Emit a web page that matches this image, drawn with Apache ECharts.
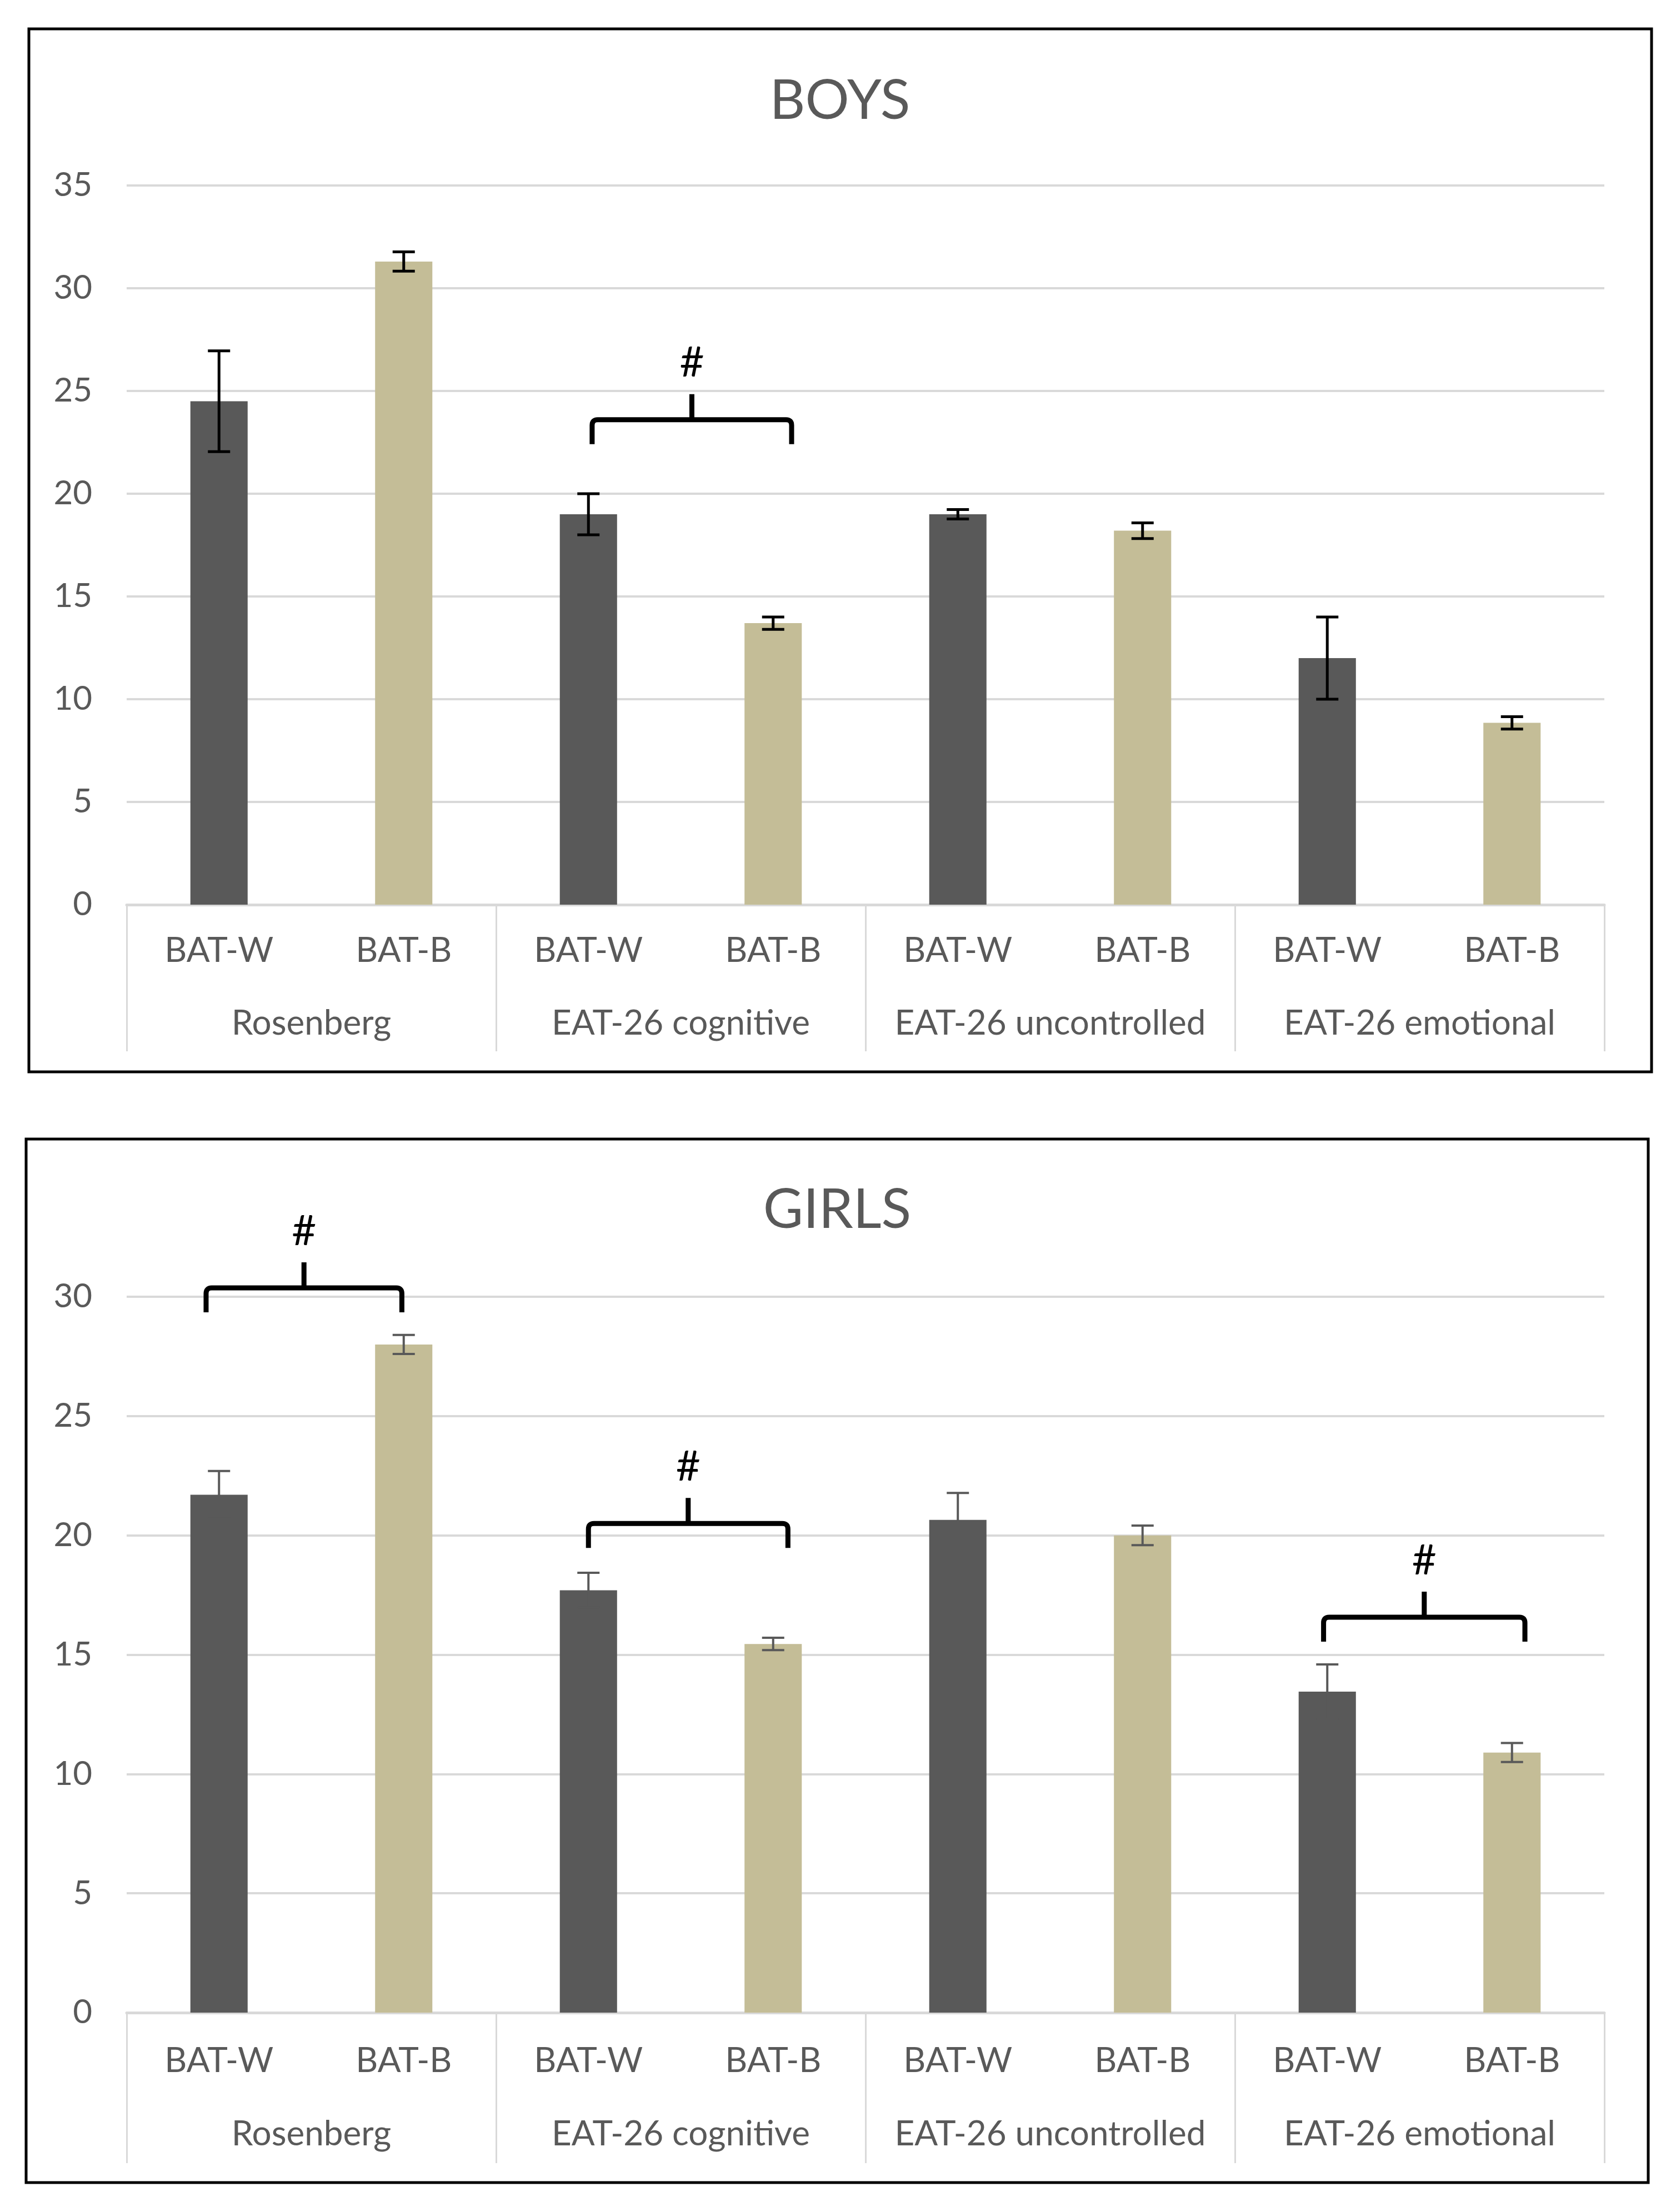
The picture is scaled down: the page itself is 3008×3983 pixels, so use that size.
<!DOCTYPE html>
<html>
<head>
<meta charset="utf-8">
<script src="https://cdn.jsdelivr.net/npm/echarts@6/dist/echarts.min.js"></script>
<style>
html,body{margin:0;padding:0;background:#fff;}
#chart{width:3008px;height:3983px;}
</style>
</head>
<body>
<div id="chart"></div>
<script>
// ---- data ----
const subLabels = ['BAT-W','BAT-B','BAT-W','BAT-B','BAT-W','BAT-B','BAT-W','BAT-B'];
const groupLabels = ['Rosenberg','EAT-26 cognitive','EAT-26 uncontrolled','EAT-26 emotional'];
const boysTitle = 'BOYS';
const girlsTitle = 'GIRLS';
const boysMeans = [24.5, 31.3, 19.0, 13.7, 19.0, 18.2, 12.0, 8.85];
const boysErr   = [2.45, 0.47, 1.0, 0.3, 0.23, 0.38, 2.0, 0.3];
const girlsMeans = [21.7, 28.0, 17.7, 15.45, 20.65, 20.0, 13.45, 10.9];
const girlsErr   = [1.0, 0.4, 0.73, 0.26, 1.13, 0.41, 1.14, 0.4];
const boysYMax = 35, girlsYMax = 30, yStep = 5;
// significance brackets: start/end position (category index), level (value)
const boysBracketStart = [2.02];
const boysBracketEnd   = [3.10];
const boysBracketLevel = [23.6];
const girlsBracketStart = [-0.07, 2.0, 5.98];
const girlsBracketEnd   = [0.99, 3.08, 7.07];
const girlsBracketLevel = [30.37, 20.5, 16.57];
const sigMark = '#';

// ---- styles ----
const DARK = '#595959', TAN = '#C4BD97', GRID = '#D9D9D9', TXT = '#595959';
const FONT = 'Lato';

const chart = echarts.init(document.getElementById('chart'), null, {renderer:'canvas'});

function barData(means){
  return means.map((v,i)=>({value:v, itemStyle:{color: i%2===0 ? DARK : TAN}}));
}
function errData(means, errs){
  return means.map((v,i)=>[i, v, errs[i]]);
}
function bracketData(s,e,l){
  return s.map((v,i)=>[v, e[i], l[i]]);
}
function errRender(color, lw){
  return function(params, api){
    const i = api.value(0), m = api.value(1), e = api.value(2);
    const t = api.coord([i, m+e]);
    const b = api.coord([i, m-e]);
    const hw = 20;
    const st = {stroke: color, lineWidth: lw};
    return {type:'group', children:[
      {type:'line', shape:{x1:t[0], y1:t[1], x2:b[0], y2:b[1]}, style:st},
      {type:'line', shape:{x1:t[0]-hw, y1:t[1], x2:t[0]+hw, y2:t[1]}, style:st},
      {type:'line', shape:{x1:b[0]-hw, y1:b[1], x2:b[0]+hw, y2:b[1]}, style:st}
    ]};
  };
}
function bracketRender(params, api){
  const p0 = api.value(0), p1 = api.value(1), lvl = api.value(2);
  const band = api.size([1,0])[0];
  function px(p){ const r = Math.round(p); return api.coord([r, lvl])[0] + (p-r)*band; }
  const y = api.coord([0, lvl])[1];
  const x0 = px(p0), x1 = px(p1), xm = (x0+x1)/2;
  const r = 10, down = 44, up = 46;
  const d = 'M'+x0+' '+(y+down)+' L'+x0+' '+(y+r)+' Q'+x0+' '+y+' '+(x0+r)+' '+y+
            ' L'+(x1-r)+' '+y+' Q'+x1+' '+y+' '+x1+' '+(y+r)+' L'+x1+' '+(y+down)+
            ' M'+xm+' '+y+' L'+xm+' '+(y-up);
  return {type:'group', children:[
    {type:'path', shape:{pathData:d}, style:{stroke:'#000', lineWidth:9, fill:null}},
    {type:'text', x:xm, y:y-102, style:{text:sigMark, fill:'#000', fontSize:76, fontFamily:FONT,
      align:'center', verticalAlign:'middle'}}
  ]};
}

function xAxes(gridIndex, subMargin, grpMargin, tickLen){
  return [
    {type:'category', gridIndex, data:subLabels, position:'bottom',
     axisLine:{show:true, lineStyle:{color:GRID, width:5}},
     axisTick:{show:false},
     axisLabel:{interval:0, margin:subMargin, fontSize:62, fontFamily:FONT, color:TXT},
     splitLine:{show:false}},
    {type:'category', gridIndex, data:groupLabels, position:'bottom', offset:0,
     axisLine:{show:false},
     axisTick:{show:true, interval:0, length:tickLen, lineStyle:{color:GRID, width:3}},
     axisLabel:{interval:0, margin:grpMargin, fontSize:62, fontFamily:FONT, color:TXT},
     splitLine:{show:false}}
  ];
}
function yAxis(gridIndex, max){
  return {type:'value', gridIndex, min:0, max:max, interval:yStep,
    axisLine:{show:false}, axisTick:{show:false},
    axisLabel:{margin:62, fontSize:60, fontFamily:FONT, color:TXT},
    splitLine:{show:true, lineStyle:{color:GRID, width:4}}};
}

const option = {
  backgroundColor:'#fff',
  animation:false,
  grid:[
    {left:228, right:120, top:334, height:1295},
    {left:228, right:120, top:2335, height:1289}
  ],
  xAxis: xAxes(0, 52, 183, 264).concat(xAxes(1, 56, 188, 271)),
  yAxis: [yAxis(0, boysYMax), yAxis(1, girlsYMax)],
  graphic:[
    {type:'rect', shape:{x:52, y:52, width:2921, height:1878}, style:{fill:null, stroke:'#000', lineWidth:5}, z:100},
    {type:'rect', shape:{x:47, y:2051, width:2920, height:1879}, style:{fill:null, stroke:'#000', lineWidth:5}, z:100},
    {type:'text', x:1512, y:182, style:{text:boysTitle, fontSize:99, fontFamily:FONT, fill:TXT, align:'center', verticalAlign:'middle'}},
    {type:'text', x:1507, y:2179, style:{text:girlsTitle, fontSize:99, fontFamily:FONT, fill:TXT, align:'center', verticalAlign:'middle'}}
  ],
  series:[
    {type:'bar', xAxisIndex:0, yAxisIndex:0, data:barData(boysMeans), barWidth:'31%'},
    {type:'custom', xAxisIndex:0, yAxisIndex:0, data:errData(boysMeans, boysErr), encode:{x:0, y:1},
     renderItem:errRender('#000', 5), clip:false, z:5},
    {type:'custom', xAxisIndex:0, yAxisIndex:0, data:bracketData(boysBracketStart, boysBracketEnd, boysBracketLevel),
     encode:{x:0, y:2}, renderItem:bracketRender, clip:false, z:6},
    {type:'bar', xAxisIndex:2, yAxisIndex:1, data:barData(girlsMeans), barWidth:'31%'},
    {type:'custom', xAxisIndex:2, yAxisIndex:1, data:errData(girlsMeans, girlsErr), encode:{x:0, y:1},
     renderItem:errRender(DARK, 4), clip:false, z:5},
    {type:'custom', xAxisIndex:2, yAxisIndex:1, data:bracketData(girlsBracketStart, girlsBracketEnd, girlsBracketLevel),
     encode:{x:0, y:2}, renderItem:bracketRender, clip:false, z:6}
  ]
};
chart.setOption(option);
</script>
</body>
</html>
